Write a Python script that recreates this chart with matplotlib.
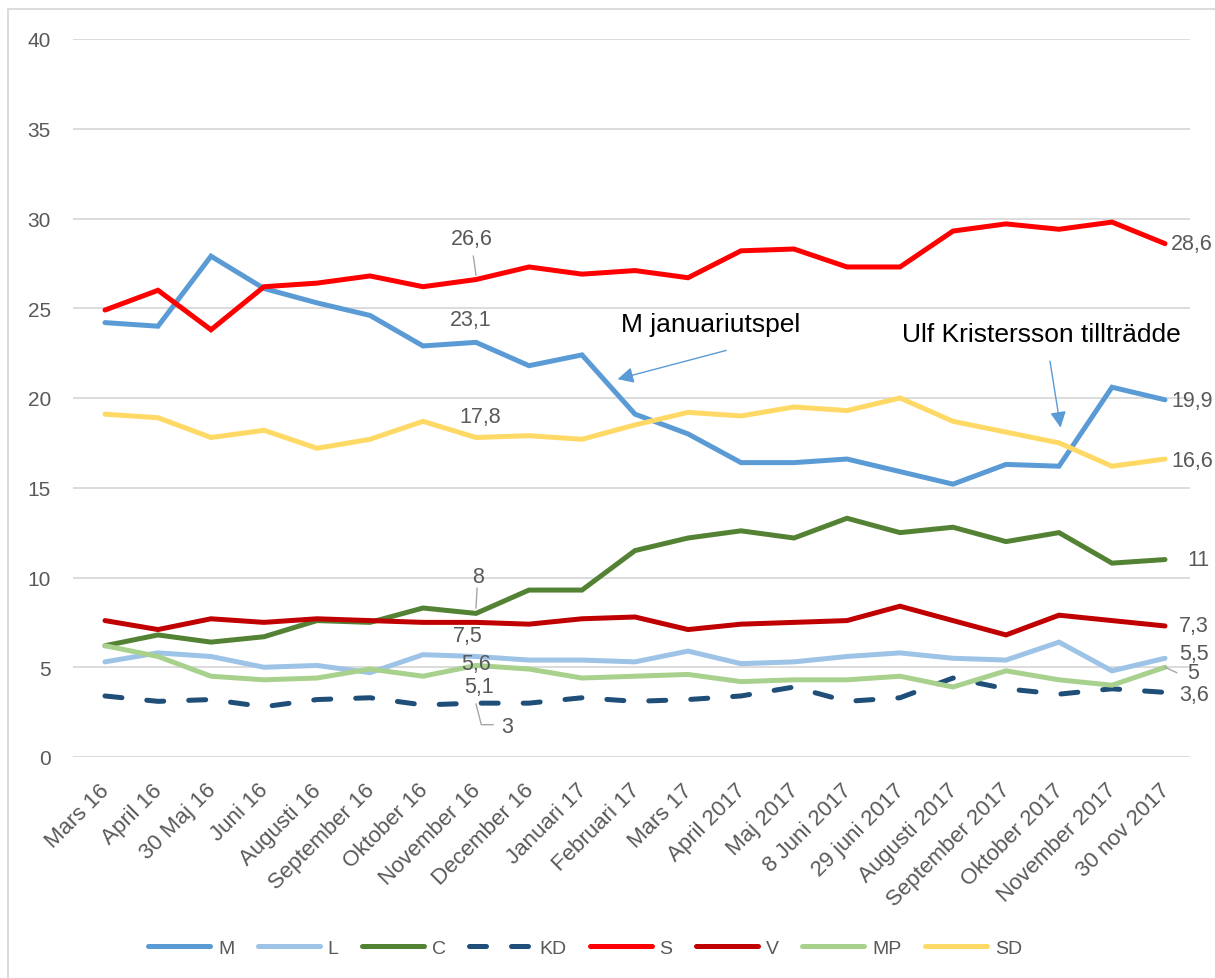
import matplotlib
matplotlib.use("Agg")
import matplotlib.pyplot as plt
from matplotlib.patches import Rectangle
from matplotlib.transforms import ScaledTranslation

plt.rcParams['font.family'] = ['Liberation Sans', 'DejaVu Sans']

# data
months = ['Mars 16', 'April 16', '30 Maj 16', 'Juni 16', 'Augusti 16', 'September 16',
          'Oktober 16', 'November 16', 'December 16', 'Januari 17', 'Februari 17',
          'Mars 17', 'April 2017', 'Maj 2017', '8 Juni 2017', '29 juni 2017',
          'Augusti 2017', 'September 2017', 'Oktober 2017', 'November 2017', '30 nov 2017']

M = [24.2, 24.0, 27.9, 26.1, 25.3, 24.6, 22.9, 23.1, 21.8, 22.4, 19.1,
     18.0, 16.4, 16.4, 16.6, 15.9, 15.2, 16.3, 16.2, 20.6, 19.9]
L = [5.3, 5.8, 5.6, 5.0, 5.1, 4.7, 5.7, 5.6, 5.4, 5.4, 5.3,
     5.9, 5.2, 5.3, 5.6, 5.8, 5.5, 5.4, 6.4, 4.8, 5.5]
C = [6.2, 6.8, 6.4, 6.7, 7.6, 7.5, 8.3, 8.0, 9.3, 9.3, 11.5,
     12.2, 12.6, 12.2, 13.3, 12.5, 12.8, 12.0, 12.5, 10.8, 11.0]
KD = [3.4, 3.1, 3.2, 2.8, 3.2, 3.3, 2.9, 3.0, 3.0, 3.3, 3.1,
      3.2, 3.4, 3.9, 3.1, 3.3, 4.4, 3.8, 3.5, 3.8, 3.6]
S = [24.9, 26.0, 23.8, 26.2, 26.4, 26.8, 26.2, 26.6, 27.3, 26.9, 27.1,
     26.7, 28.2, 28.3, 27.3, 27.3, 29.3, 29.7, 29.4, 29.8, 28.6]
V = [7.6, 7.1, 7.7, 7.5, 7.7, 7.6, 7.5, 7.5, 7.4, 7.7, 7.8,
     7.1, 7.4, 7.5, 7.6, 8.4, 7.6, 6.8, 7.9, 7.6, 7.3]
MP = [6.2, 5.6, 4.5, 4.3, 4.4, 4.9, 4.5, 5.1, 4.9, 4.4, 4.5,
      4.6, 4.2, 4.3, 4.3, 4.5, 3.9, 4.8, 4.3, 4.0, 5.0]
SD = [19.1, 18.9, 17.8, 18.2, 17.2, 17.7, 18.7, 17.8, 17.9, 17.7, 18.5,
      19.2, 19.0, 19.5, 19.3, 20.0, 18.7, 18.1, 17.5, 16.2, 16.6]

series = [('M', M, '#5B9BD5'), ('L', L, '#9DC3E6'), ('C', C, '#548235'),
          ('KD', KD, '#1F4E79'), ('S', S, '#FF0000'), ('V', V, '#C00000'),
          ('MP', MP, '#A9D18E'), ('SD', SD, '#FFD966')]

grey = '#595959'
lgrey = '#A6A6A6'
fs = 15.5

fig = plt.figure(figsize=(12.15, 9.79), dpi=100)
ax = fig.add_axes([73 / 1215, 1 - 758 / 979, (1190 - 73) / 1215, (758 - 40) / 979])

x = list(range(len(months)))
for name, vals, col in series:
    if name == 'KD':
        ax.plot(x, vals, color=col, lw=3.6, linestyle=(0, (3.4, 5)),
                dash_capstyle='round', label=name)
    else:
        ax.plot(x, vals, color=col, lw=3.6, solid_capstyle='round',
                solid_joinstyle='miter', label=name)

ax.set_xlim(-32 / 53, 20 + 25 / 53)
ax.set_ylim(0, 40)
ax.set_yticks(range(0, 41, 5))
ax.set_xticks(x)
ax.set_xticklabels(months, rotation=45, ha='right', rotation_mode='anchor')
ax.tick_params(axis='both', length=0, labelcolor=grey)
ax.tick_params(axis='y', pad=16, labelsize=15)
ax.tick_params(axis='x', pad=16, labelsize=16)
for lbl in ax.get_xticklabels():
    lbl.set_transform(lbl.get_transform() + ScaledTranslation(-0.06, 0, fig.dpi_scale_trans))
ax.grid(axis='y', color='#D9D9D9', lw=1.3)
ax.set_axisbelow(True)
for sp in ax.spines.values():
    sp.set_visible(False)

# data labels at November 16
i = 7
ax.annotate('26,6', (i, S[i]), xytext=(-4, 41), textcoords='offset pixels',
            ha='center', va='center', fontsize=fs, color=grey)
ax.plot([i - 0.05, i], [S[i] + 1.3, S[i] + 0.25], color=lgrey, lw=1)
ax.annotate('23,1', (i, M[i]), xytext=(-5, 23), textcoords='offset pixels',
            ha='center', va='center', fontsize=fs, color=grey)
ax.annotate('17,8', (i, SD[i]), xytext=(4, 21), textcoords='offset pixels',
            ha='center', va='center', fontsize=fs, color=grey)
ax.annotate('8', (i, C[i]), xytext=(2, 37), textcoords='offset pixels',
            ha='center', va='center', fontsize=fs, color=grey)
ax.plot([i + 0.02, i], [C[i] + 1.4, C[i] + 0.3], color=lgrey, lw=1)
ax.annotate('7,5', (i, V[i]), xytext=(-8, -13), textcoords='offset pixels',
            ha='center', va='center', fontsize=fs, color=grey)
ax.annotate('5,6', (i, L[i]), xytext=(0, -7), textcoords='offset pixels',
            ha='center', va='center', fontsize=fs, color=grey)
ax.annotate('5,1', (i, MP[i]), xytext=(3, -21), textcoords='offset pixels',
            ha='center', va='center', fontsize=fs, color=grey)
ax.annotate('3', (i, KD[i]), xytext=(31, -23), textcoords='offset pixels',
            ha='center', va='center', fontsize=fs, color=grey)
ax.plot([i, i + 0.1, i + 0.32], [KD[i] - 0.05, KD[i] - 1.2, KD[i] - 1.2],
        color=lgrey, lw=1)

# end labels
j = len(months) - 1
for txt, vals, dx, dy in [('28,6', S, 6, 0), ('19,9', M, 6, -1), ('16,6', SD, 6, -1),
                          ('11', C, 22, 0), ('7,3', V, 14, 0), ('5,5', L, 14, 5),
                          ('5', MP, 22, -5), ('3,6', KD, 14, -2)]:
    ax.annotate(txt, (j, vals[j]), xytext=(dx, dy), textcoords='offset pixels',
                ha='left', va='center', fontsize=fs, color=grey,
                annotation_clip=False)
ax.plot([j, j + 0.22], [MP[j], MP[j] - 0.3], color=lgrey, lw=1, clip_on=False)

# callouts
arrow = dict(arrowstyle='-|>', color='#5B9BD5', lw=1, mutation_scale=24,
             shrinkA=0, shrinkB=0)
ax.text(11.42, 24.1, 'M januariutspel', ha='center', va='center', fontsize=19)
ax.annotate('', xy=(9.67, 21.05), xytext=(11.72, 22.65), arrowprops=arrow)
ax.text(17.66, 23.55, 'Ulf Kristersson tillträdde', ha='center', va='center', fontsize=19)
ax.annotate('', xy=(18.03, 18.35), xytext=(17.83, 22.05), arrowprops=arrow)

# legend
leg = fig.legend(loc='center', bbox_to_anchor=(585 / 1215, 1 - 949 / 979), ncol=8,
                 frameon=False, fontsize=14, handlelength=3.2, columnspacing=1.2,
                 handletextpad=0.4)
for t in leg.get_texts():
    t.set_color(grey)

# chart border
fig.patches.append(Rectangle((8 / 1215, -0.1), 1.2, 1 - 10 / 979 + 0.1,
                             transform=fig.transFigure, fill=False,
                             edgecolor='#D9D9D9', lw=1.3))

fig.savefig('out.png', dpi=100)
